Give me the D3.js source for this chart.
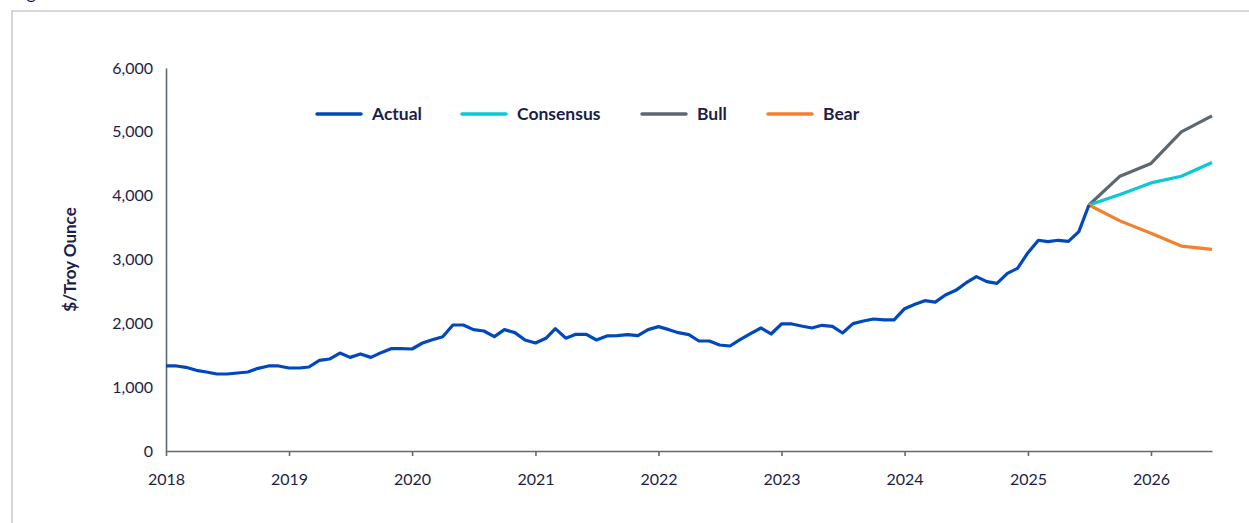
<!DOCTYPE html>
<html>
<head>
<meta charset="utf-8">
<script src="https://cdn.jsdelivr.net/npm/d3@7"></script>
<style>
    body { margin: 0; background: #ffffff; }
    svg { display: block; font-family: Lato, "Noto Sans", sans-serif; }
    .tick text { fill: #1c1e48; font-size: 16px; font-family: Lato, "Noto Sans", sans-serif; }
</style>
</head>
<body>
<div id="chart"></div>
<script>
// monthly gold price, Jan 2018 .. Jul 2025
var actualStart = "2018-01-01";
var actualValues = [
    1332, 1332, 1311, 1264, 1238, 1206, 1206, 1222, 1238, 1295, 1332, 1332,
    1300, 1300, 1316, 1421, 1441, 1535, 1467, 1520, 1467, 1541, 1604, 1604,
    1598, 1692, 1744, 1791, 1974, 1974, 1901, 1880, 1791, 1901, 1854, 1739,
    1692, 1765, 1917, 1768, 1828, 1828, 1739, 1802, 1807, 1823, 1807, 1901,
    1948, 1901, 1854, 1823, 1723, 1723, 1661, 1645, 1750, 1838, 1927, 1833,
    1990, 1990, 1958, 1927, 1969, 1953, 1849, 1995, 2037, 2068, 2053, 2053,
    2230, 2298, 2355, 2332, 2444, 2517, 2632, 2731, 2653, 2627, 2783, 2862,
    3107, 3301, 3280, 3301, 3285, 3436, 3854
];

// quarterly scenarios, Jul 2025 .. Jul 2026
var forecastDates = ["2025-07-01", "2025-10-01", "2026-01-01", "2026-04-01", "2026-07-01"];
var consensusValues = [3854, 4020, 4200, 4305, 4520];
var bullValues = [3854, 4305, 4505, 5000, 5250];
var bearValues = [3854, 3605, 3410, 3210, 3160];

var seriesNames = ["Actual", "Consensus", "Bull", "Bear"];
var seriesColors = ["#0049bd", "#0bc8d6", "#5d6770", "#f2802f"];

var yTicks = [0, 1000, 2000, 3000, 4000, 5000, 6000];
var yLabel = "$/Troy Ounce";

// set the dimensions of the graph
var W = 1249, H = 523;
var margin = {left: 166, right: 1212, top: 68, bottom: 451};

var svg = d3.select("#chart")
    .append("svg")
    .attr("width", W)
    .attr("height", H);

// frame round the figure, cut by the window
svg.append("path")
    .attr("d", "M12," + H + "V11H" + W)
    .attr("fill", "none")
    .attr("stroke", "#c9c9d2")
    .attr("stroke-width", 1.5);
svg.append("text")
    .attr("x", 12)
    .attr("y", -1)
    .style("font-size", "18px")
    .style("fill", "#1c1e48")
    .text("Figure 1");

var parse = d3.timeParse("%Y-%m-%d");
var startDate = parse(actualStart);
var actualDates = actualValues.map(function (v, i) {
    return d3.timeMonth.offset(startDate, i);
});

var x = d3.scaleTime()
    .domain([parse("2018-01-01"), parse("2026-07-01")])
    .range([margin.left, margin.right]);
var y = d3.scaleLinear()
    .domain([0, 6000])
    .range([margin.bottom, margin.top]);

// axes
svg.append("g")
    .attr("transform", "translate(0," + margin.bottom + ")")
    .call(d3.axisBottom(x)
        .ticks(d3.timeYear.every(1))
        .tickFormat(d3.timeFormat("%Y"))
        .tickSize(5)
        .tickSizeOuter(0)
        .tickPadding(18));
svg.append("g")
    .attr("transform", "translate(" + margin.left + ",0)")
    .call(d3.axisLeft(y)
        .tickValues(yTicks)
        .tickFormat(d3.format(","))
        .tickSize(0)
        .tickSizeOuter(0)
        .tickPadding(13));
svg.selectAll(".domain, .tick line")
    .attr("stroke", "#5f6a73")
    .attr("stroke-width", 1.6);

// y axis label
svg.append("text")
    .attr("transform", "translate(76," + ((margin.top + margin.bottom) / 2) + ") rotate(-90)")
    .attr("text-anchor", "middle")
    .style("font-size", "17px")
    .style("font-weight", "bold")
    .style("fill", "#1c1e48")
    .text(yLabel);

// lines
var line = d3.line()
    .x(function (d) { return x(d[0]); })
    .y(function (d) { return y(d[1]); });

var seriesData = [
    d3.zip(actualDates, actualValues),
    d3.zip(forecastDates.map(parse), consensusValues),
    d3.zip(forecastDates.map(parse), bullValues),
    d3.zip(forecastDates.map(parse), bearValues)
];

// draw forecasts first so the actual line stays on top at the fork
[2, 1, 3, 0].forEach(function (k) {
    svg.append("path")
        .datum(seriesData[k])
        .attr("fill", "none")
        .attr("stroke", seriesColors[k])
        .attr("stroke-width", 3.2)
        .attr("stroke-linejoin", "round")
        .attr("d", line);
});

// legend
var legendX = [316, 461, 641, 767];
var legend = svg.append("g");
seriesNames.forEach(function (name, i) {
    legend.append("line")
        .attr("x1", legendX[i] + 1)
        .attr("x2", legendX[i] + 45)
        .attr("y1", 114)
        .attr("y2", 114)
        .attr("stroke", seriesColors[i])
        .attr("stroke-width", 3.5)
        .attr("stroke-linecap", "round");
    legend.append("text")
        .attr("x", legendX[i] + 56)
        .attr("y", 114)
        .attr("dy", "0.35em")
        .style("font-size", "17.5px")
        .style("font-weight", "bold")
        .style("fill", "#1c1e48")
        .text(name);
});
</script>
</body>
</html>
